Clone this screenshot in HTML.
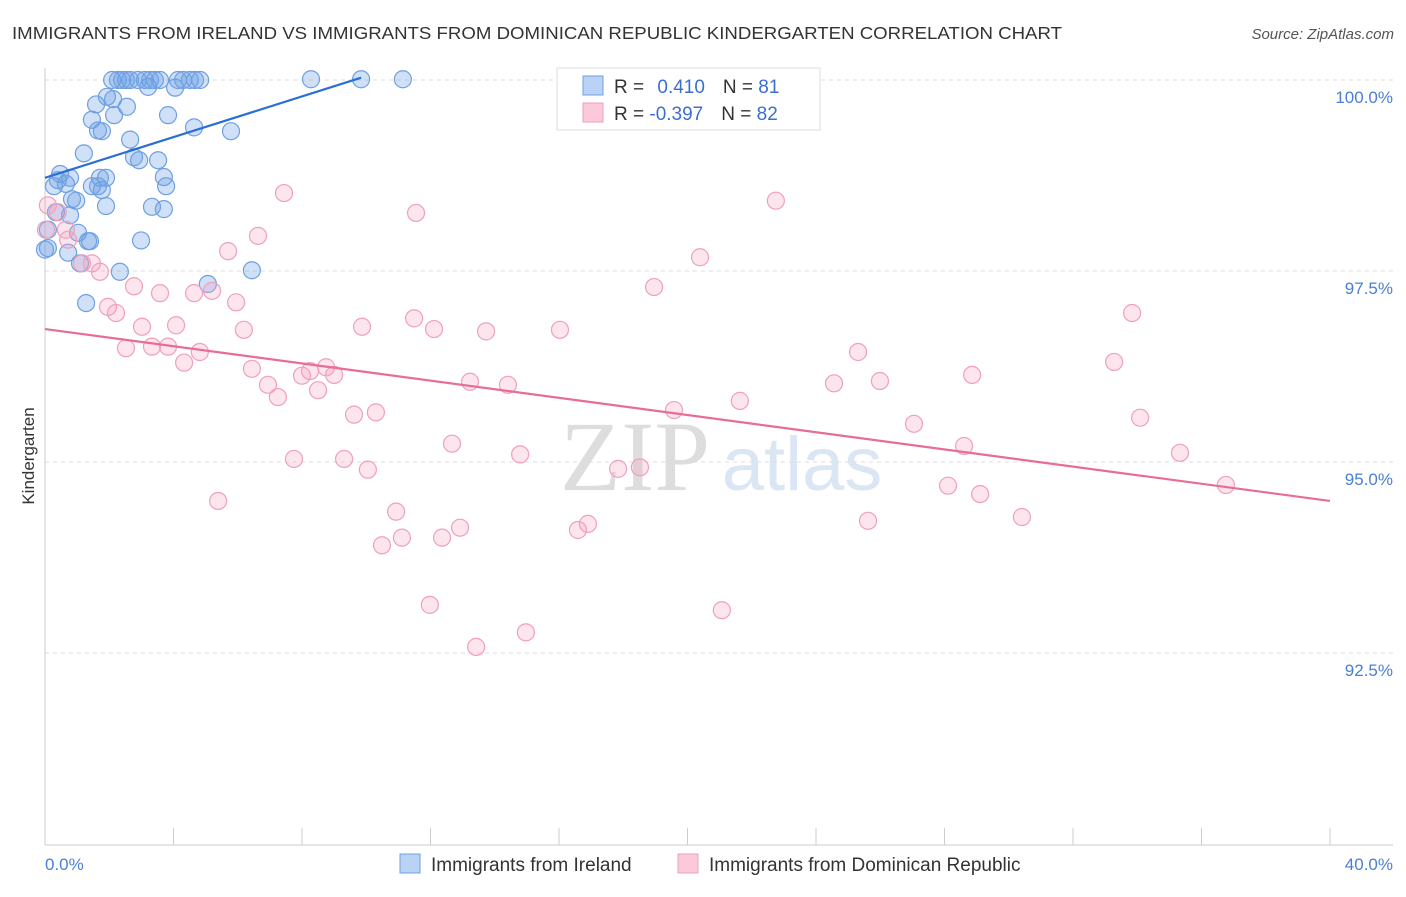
<!DOCTYPE html>
<html><head><meta charset="utf-8"><style>
body{margin:0;background:#fff;font-family:"Liberation Sans",sans-serif;}
</style></head><body>
<svg id="chart" width="1406" height="892" xmlns="http://www.w3.org/2000/svg" font-family="Liberation Sans, sans-serif">
<text x="12" y="39" font-size="17.5" fill="#333" textLength="1050" lengthAdjust="spacingAndGlyphs">IMMIGRANTS FROM IRELAND VS IMMIGRANTS FROM DOMINICAN REPUBLIC KINDERGARTEN CORRELATION CHART</text>
<text x="1394" y="39" font-size="15" fill="#555" text-anchor="end" font-style="italic">Source: ZipAtlas.com</text>
<g>
<text x="635" y="490" font-size="100" fill="#ddd" font-family="Liberation Serif, serif" text-anchor="middle">ZIP</text>
<text x="802" y="490" font-size="76" fill="#dbe6f5" text-anchor="middle">atlas</text>
</g>
<g id="grid"></g>
<g id="axes"></g>
<g id="pts"></g>
<g id="lines"></g>
<text transform="translate(34,456) rotate(-90)" font-size="17" fill="#333" text-anchor="middle">Kindergarten</text>
<text x="45" y="870" font-size="17" fill="#4a7fd6">0.0%</text>
<text x="1393" y="870" font-size="17" fill="#4a7fd6" text-anchor="end">40.0%</text>
<g>
<rect x="557" y="68" width="263" height="62" fill="#fff" stroke="#ddd"/>
<rect x="583" y="76" width="20" height="19" fill="#b8d3f5" stroke="#6fa0e0"/>
<rect x="583" y="103" width="20" height="19" fill="#fbc9d9" stroke="#f0a0b8"/>
<text x="614" y="93" font-size="19" fill="#333">R = <tspan fill="#3a6fd0" dx="8">0.410</tspan><tspan dx="18">N = </tspan><tspan fill="#3a6fd0">81</tspan></text>
<text x="614" y="120" font-size="19" fill="#333">R = <tspan fill="#3a6fd0">-0.397</tspan><tspan dx="18">N = </tspan><tspan fill="#3a6fd0">82</tspan></text>
</g>
<g>
<rect x="400" y="854" width="20" height="19" fill="#b8d3f5" stroke="#6fa0e0"/>
<text x="431" y="871" font-size="19" fill="#333">Immigrants from Ireland</text>
<rect x="678" y="854" width="20" height="19" fill="#fbc9d9" stroke="#f0a0b8"/>
<text x="709" y="871" font-size="19" fill="#333">Immigrants from Dominican Republic</text>
</g>
</svg>
<script>
const yTicks=[100,97.5,95,92.5];
const yTickLabels=["100.0%","97.5%","95.0%","92.5%"];
const xTicks=[0,4,8,12,16,20,24,28,32,36,40];
const irelandX=[2.09,2.27,2.40,2.52,2.65,2.89,3.11,3.27,3.42,3.58,4.14,4.30,4.51,4.67,4.83,8.28,9.84,11.14,18.21,3.21,4.05,1.93,2.12,1.59,2.55,2.15,3.83,1.46,1.65,1.77,4.64,5.79,2.65,2.77,3.52,2.93,1.21,0.47,0.40,0.78,1.71,1.90,3.70,0.28,0.65,1.46,1.65,1.77,3.77,0.84,0.97,1.90,3.33,3.70,0.34,0.78,0.09,1.03,1.34,1.40,2.99,0.09,0.72,1.09,2.33,6.44,5.07,1.28,0.00];
const irelandY=[100,100,100,100,100,100,100,100,100,100,100,100,100,100,100,100.01,100.01,100.01,100.01,99.91,99.90,99.78,99.75,99.68,99.65,99.54,99.54,99.48,99.34,99.33,99.38,99.33,99.22,98.99,98.95,98.95,99.04,98.77,98.69,98.72,98.72,98.72,98.73,98.61,98.64,98.61,98.61,98.56,98.61,98.44,98.42,98.35,98.34,98.31,98.27,98.23,98.04,98.00,97.89,97.89,97.90,97.80,97.74,97.60,97.49,97.51,97.33,97.08,97.78];
const domX=[0.40,0.65,0.72,1.15,1.71,1.46,2.21,1.96,2.52,3.02,2.77,3.33,3.58,3.83,4.08,4.33,4.64,4.82,5.20,5.39,5.95,6.19,5.70,6.63,6.44,6.94,7.25,7.44,7.75,8.00,8.25,8.50,8.75,9.00,9.31,9.62,9.87,10.05,10.30,10.49,10.93,11.11,11.55,11.49,11.98,12.11,12.36,12.67,12.92,13.23,13.42,13.73,14.41,14.79,14.97,16.03,16.59,16.90,17.84,18.52,18.96,19.58,20.39,21.07,21.63,22.75,24.56,25.31,25.62,25.99,27.05,28.11,28.61,28.86,29.11,30.41,33.28,33.84,34.09,35.33,36.76,0.03,0.09];
const domY=[98.27,98.04,97.91,97.60,97.49,97.60,96.95,97.03,96.49,96.77,97.30,96.51,97.21,96.51,96.79,96.30,97.21,96.44,97.24,94.49,97.09,96.73,97.76,97.96,96.22,96.01,95.85,98.52,95.04,96.13,96.19,95.94,96.24,96.14,95.04,95.62,96.77,94.90,95.65,93.91,94.35,94.01,98.26,96.88,93.13,96.74,94.01,95.24,94.14,96.05,92.58,96.71,96.01,95.10,92.77,96.73,94.11,94.19,94.91,94.93,97.29,95.68,97.68,93.06,95.80,98.42,96.03,96.44,94.23,96.06,95.50,94.69,95.21,96.14,94.58,94.28,96.31,96.95,95.58,95.12,94.70,98.04,98.36];
const irelandTrend=[[0,98.72],[9.84,100.03]];
const domTrend=[[0,96.74],[40,94.49]];
const NS="http://www.w3.org/2000/svg";
const sx=v=>45+v*(1285/40);
const sy=v=>80+(100-v)*76.4;
function mk(tag,attrs,parent){const e=document.createElementNS(NS,tag);for(const k in attrs)e.setAttribute(k,attrs[k]);parent.appendChild(e);return e;}
const grid=document.getElementById('grid'),axes=document.getElementById('axes'),pts=document.getElementById('pts'),lines=document.getElementById('lines');
yTicks.forEach((t,i)=>{
 const l=mk('line',{x1:45,x2:1393,y1:sy(t),y2:sy(t),stroke:'#ddd','stroke-dasharray':'4,4'},grid);
 
 
 const tx=mk('text',{x:1393,y:sy(t)+23,'font-size':17,fill:'#4a7fd6','text-anchor':'end'},grid);
 tx.textContent=yTickLabels[i];
 
 
});
const xa=mk('line',{x1:45,x2:1393,y1:845,y2:845,stroke:'#ccc'},axes);


const ya=mk('line',{x1:45,x2:45,y1:68,y2:845,stroke:'#ccc'},axes);


xTicks.forEach(t=>{
 const l=mk('line',{x1:sx(t),x2:sx(t),y1:828,y2:845,stroke:'#ccc'},axes);
 
 
});
irelandX.forEach((v,i)=>{
 const c=mk('circle',{cx:sx(v),cy:sy(irelandY[i]),r:8.5,fill:'rgba(110,160,230,0.33)',stroke:'#6fa0e0','stroke-width':1.2},pts);
 
 
});
domX.forEach((v,i)=>{
 const c=mk('circle',{cx:sx(v),cy:sy(domY[i]),r:8.5,fill:'rgba(245,160,190,0.28)',stroke:'#f0a0b8','stroke-width':1.2},pts);
 
 
});
const bl=mk('line',{x1:sx(irelandTrend[0][0]),y1:sy(irelandTrend[0][1]),x2:sx(irelandTrend[1][0]),y2:sy(irelandTrend[1][1]),stroke:'#2a6fd6','stroke-width':2.2},lines);


const pl=mk('line',{x1:sx(domTrend[0][0]),y1:sy(domTrend[0][1]),x2:sx(domTrend[1][0]),y2:sy(domTrend[1][1]),stroke:'#e86c98','stroke-width':2.2},lines);


</script>
</body></html>
